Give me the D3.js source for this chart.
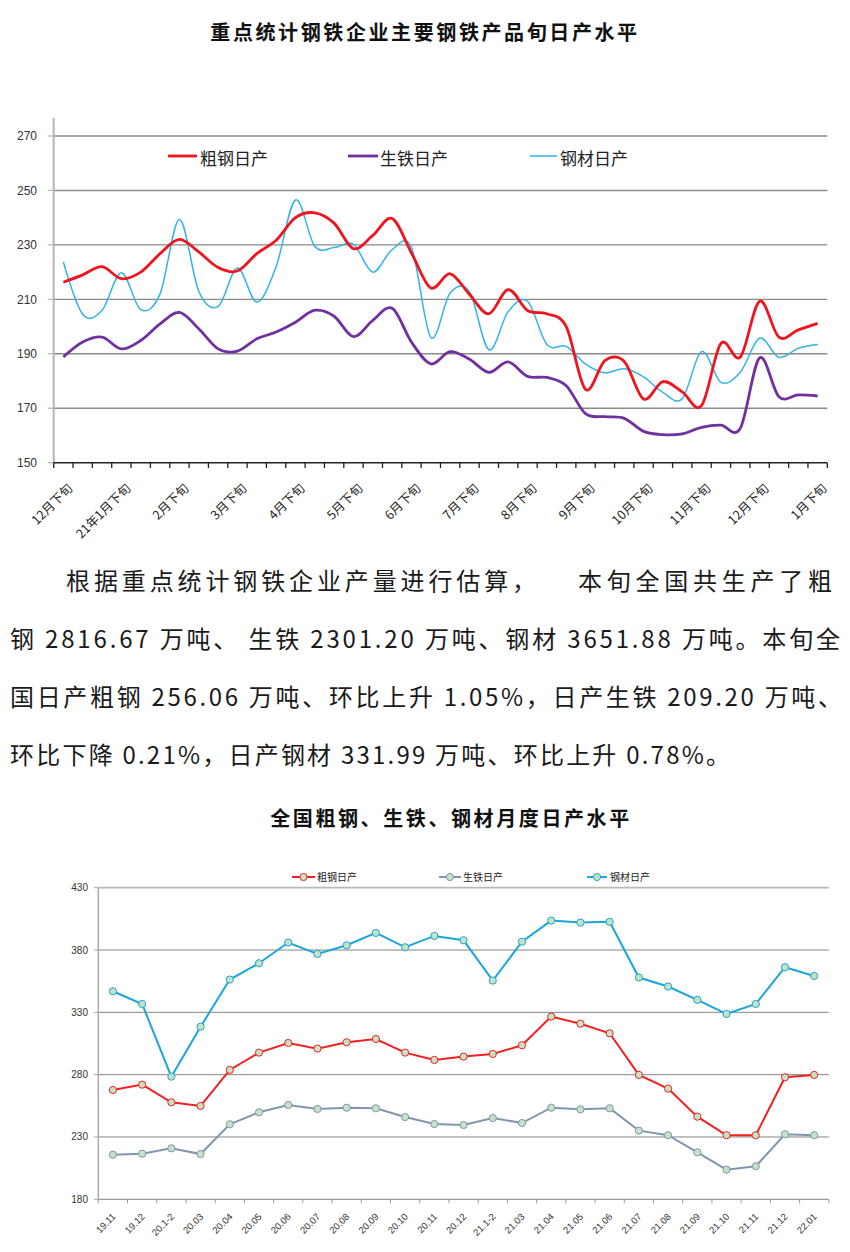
<!DOCTYPE html>
<html><head><meta charset="utf-8">
<script src="https://cdn.jsdelivr.net/npm/d3@7"></script>
<style>body{margin:0;background:#fff;} svg{display:block;}</style>
</head><body>
<svg id="c" width="850" height="1252"></svg>
<script>
// ---------- Data: top chart (dekad daily output, 万吨) ----------
const dekadCategories = [
  "2020年12月下旬",
  "2021年1月上旬","2021年1月中旬","2021年1月下旬",
  "2021年2月上旬","2021年2月中旬","2021年2月下旬",
  "2021年3月上旬","2021年3月中旬","2021年3月下旬",
  "2021年4月上旬","2021年4月中旬","2021年4月下旬",
  "2021年5月上旬","2021年5月中旬","2021年5月下旬",
  "2021年6月上旬","2021年6月中旬","2021年6月下旬",
  "2021年7月上旬","2021年7月中旬","2021年7月下旬",
  "2021年8月上旬","2021年8月中旬","2021年8月下旬",
  "2021年9月上旬","2021年9月中旬","2021年9月下旬",
  "2021年10月上旬","2021年10月中旬","2021年10月下旬",
  "2021年11月上旬","2021年11月中旬","2021年11月下旬",
  "2021年12月上旬","2021年12月中旬","2021年12月下旬",
  "2022年1月上旬","2022年1月中旬","2022年1月下旬"
];
const dekadTickLabels = ["12月下旬","21年1月下旬","2月下旬","3月下旬","4月下旬","5月下旬","6月下旬",
  "7月下旬","8月下旬","9月下旬","10月下旬","11月下旬","12月下旬","1月下旬"];
const crudeDekad = [216.3,219,222,217.6,220,226.8,232,227.4,221.7,220.4,
  226.8,231.7,240,241.8,238,228.6,233.5,239.7,227,214.2,
  219.4,211.8,204.7,213.6,205.9,204.7,200,176.9,187.5,187.2,
  173.4,179.8,176,171,193.8,188.8,209.3,196.1,198.8,201.2];
const pigDekad = [188.8,194.3,196.1,191.8,194.9,201,205.2,199.2,191.8,191,
  195.5,198,201.6,206,203.8,196.3,202.3,206.7,194.3,186.3,
  190.8,188,183.2,187,181.7,181.3,178.3,168,166.9,166.3,
  161.5,160.3,160.6,163,163.8,162.6,188.5,174.2,174.9,174.5];
const steelDekad = [223.7,204.5,206,219.8,206.2,212,239.3,213,207.4,221.5,
  209,222,246.5,229.5,229,230.2,220,228.3,229,196,
  212.3,212.8,191.5,205.5,209.3,193.4,192.7,186.2,183,184.5,
  181.5,175.8,173.5,190.8,179.5,183.2,195.7,188.7,192,193.4];
const topYTicks = [150,170,190,210,230,250,270];
const topSeriesNames = ["粗钢日产","生铁日产","钢材日产"];

// ---------- Data: bottom chart (monthly daily output, 万吨) ----------
const months = ["19.11","19.12","20.1-2","20.03","20.04","20.05","20.06","20.07","20.08","20.09",
  "20.10","20.11","20.12","21.1-2","21.03","21.04","21.05","21.06","21.07","21.08",
  "21.09","21.10","21.11","21.12","22.01"];
const crudeMonth = [267.7,272,257.8,254.9,283.8,297.7,305.4,300.9,306,308.6,
  297.7,291.8,294.5,296.6,303.6,326.6,320.9,313.2,279.8,268.8,
  246.3,231.4,231.4,277.9,279.8];
const pigMonth = [215.8,216.6,220.9,216.3,240.2,249.8,255.7,252.5,253.5,253,
  246,240.4,239.6,245.2,241.2,253.5,252.2,253,235.1,231.4,
  217.7,203.8,206.5,232.2,231.4];
const steelMonth = [346.9,336.7,278.4,318.5,356.3,369.4,386,376.9,383.8,393.7,
  382.2,391.3,387.8,355.5,386.7,403.6,402,402.6,357.9,350.7,
  340,328.7,336.7,366.2,359.2];
const botYTicks = [180,230,280,330,380,430];

// ---------- Text ----------
const title1 = "重点统计钢铁企业主要钢铁产品旬日产水平";
const title2 = "全国粗钢、生铁、钢材月度日产水平";
const paraLines = [
  "钢 2816.67 万吨、 生铁 2301.20 万吨、钢材 3651.88 万吨。本旬全",
  "国日产粗钢 256.06 万吨、环比上升 1.05%，日产生铁 209.20 万吨、",
  "环比下降 0.21%，日产钢材 331.99 万吨、环比上升 0.78%。"
];
const paraFirstA = "根据重点统计钢铁企业产量进行估算，";
const paraFirstB = "本旬全国共生产了粗";

const svg = d3.select("#c");
const CJK = "'Noto Sans CJK SC','Noto Sans',sans-serif";
const NUM = "'Liberation Sans','DejaVu Sans',sans-serif";

// ================= TOP CHART =================
{
  const x = d3.scaleBand().domain(dekadCategories).range([53.7, 827.3]);
  const y = d3.scaleLinear().domain([150, 270]).range([462.7, 136]);
  const g = svg.append("g");

  svg.append("text").attr("x", 425).attr("y", 40).attr("text-anchor", "middle")
    .attr("font-family", CJK).attr("font-weight", 700).attr("font-size", 20)
    .attr("letter-spacing", 2.6).attr("fill", "#111").text(title1);

  // gridlines
  g.selectAll("line.grid").data(topYTicks.filter(d => d > 150)).join("line")
    .attr("x1", 53.7).attr("x2", 827.3).attr("y1", d => y(d)).attr("y2", d => y(d))
    .attr("stroke", "#8a8a8a").attr("stroke-width", 1.4);

  // y axis line
  g.append("line").attr("x1", 53.7).attr("x2", 53.7).attr("y1", 118).attr("y2", 462.7)
    .attr("stroke", "#b5b5b5").attr("stroke-width", 2);

  // y labels
  g.selectAll("text.yl").data(topYTicks).join("text")
    .attr("x", 37).attr("y", d => y(d)).attr("dy", "0.35em").attr("text-anchor", "end")
    .attr("font-family", NUM).attr("font-size", 12).attr("fill", "#333").text(d => d);
  g.selectAll("line.yt").data(topYTicks).join("line")
    .attr("x1", 48).attr("x2", 53.7).attr("y1", d => y(d)).attr("y2", d => y(d))
    .attr("stroke", "#b5b5b5").attr("stroke-width", 1.2);

  // x axis
  g.append("line").attr("x1", 53.7).attr("x2", 827.3).attr("y1", 462.7).attr("y2", 462.7)
    .attr("stroke", "#222").attr("stroke-width", 1.6);
  const bounds = dekadCategories.map(c => x(c)).concat([x.range()[1]]);
  g.selectAll("line.xt").data(bounds).join("line")
    .attr("x1", d => d).attr("x2", d => d).attr("y1", 462.7).attr("y2", 468)
    .attr("stroke", "#222").attr("stroke-width", 1.3);

  // x labels every third category
  g.selectAll("text.xl").data(dekadTickLabels).join("text")
    .attr("transform", (d, k) => {
      const cx = x(dekadCategories[k * 3]) + x.bandwidth() / 2;
      return `translate(${cx + 7},${486}) rotate(-45)`;
    })
    .attr("dy", "0.35em").attr("text-anchor", "end")
    .attr("font-family", CJK).attr("font-size", 12.5).attr("fill", "#222").text(d => d);

  const line = d3.line()
    .x((d, i) => x(dekadCategories[i]) + x.bandwidth() / 2)
    .y(d => y(d))
    .curve(d3.curveCardinal.tension(0));

  const series = [
    { v: steelDekad, c: "#33b3e3", w: 1.5 },
    { v: pigDekad, c: "#7030a0", w: 2.8 },
    { v: crudeDekad, c: "#f0141e", w: 2.8 }
  ];
  series.forEach(s => {
    g.append("path").attr("d", line(s.v)).attr("fill", "none")
      .attr("stroke", s.c).attr("stroke-width", s.w).attr("stroke-linejoin", "round");
  });

  // legend
  const leg = [
    { name: topSeriesNames[0], c: "#f0141e", w: 2.8, x1: 168, x2: 197, tx: 200 },
    { name: topSeriesNames[1], c: "#7030a0", w: 2.8, x1: 348, x2: 378, tx: 380 },
    { name: topSeriesNames[2], c: "#33b3e3", w: 1.5, x1: 530, x2: 557, tx: 560 }
  ];
  leg.forEach(l => {
    g.append("line").attr("x1", l.x1).attr("x2", l.x2).attr("y1", 156).attr("y2", 156)
      .attr("stroke", l.c).attr("stroke-width", l.w);
    g.append("text").attr("x", l.tx).attr("y", 165).attr("font-family", CJK)
      .attr("font-size", 17).attr("fill", "#222").text(l.name);
  });
}

// ================= PARAGRAPH =================
{
  const tg = svg.append("g").attr("font-family", CJK).attr("font-size", 24).attr("fill", "#1a1a1a");
  tg.append("text").attr("x", 66).attr("y", 590).attr("textLength", 470)
    .attr("lengthAdjust", "spacing").text(paraFirstA);
  tg.append("text").attr("x", 578).attr("y", 590).attr("textLength", 254)
    .attr("lengthAdjust", "spacing").text(paraFirstB);
  const ends = [840, 842, 730];
  paraLines.forEach((t, i) => {
    tg.append("text").attr("x", 10).attr("y", 648 + i * 58).attr("textLength", ends[i] - 10)
      .attr("lengthAdjust", "spacing").text(t);
  });
}

// ================= BOTTOM CHART =================
{
  const x = d3.scaleBand().domain(months).range([98.3, 828.8]);
  const y = d3.scaleLinear().domain([180, 430]).range([1199.3, 887.7]);
  const g = svg.append("g");

  svg.append("text").attr("x", 451).attr("y", 826).attr("text-anchor", "middle")
    .attr("font-family", CJK).attr("font-weight", 700).attr("font-size", 20)
    .attr("letter-spacing", 2.6).attr("fill", "#111").text(title2);

  g.selectAll("line.grid").data(botYTicks.filter(d => d > 180 && d < 430)).join("line")
    .attr("x1", 98.3).attr("x2", 828.8).attr("y1", d => y(d)).attr("y2", d => y(d))
    .attr("stroke", "#858585").attr("stroke-width", 1);
  g.append("line").attr("x1", 98.3).attr("x2", 828.8).attr("y1", y(430)).attr("y2", y(430))
    .attr("stroke", "#b8b8b8").attr("stroke-width", 1.8);

  g.append("line").attr("x1", 98.3).attr("x2", 98.3).attr("y1", y(430)).attr("y2", y(180))
    .attr("stroke", "#aaaaaa").attr("stroke-width", 1.5);
  g.selectAll("line.yt").data(botYTicks).join("line")
    .attr("x1", 94).attr("x2", 98.3).attr("y1", d => y(d)).attr("y2", d => y(d))
    .attr("stroke", "#aaaaaa").attr("stroke-width", 1);
  g.selectAll("text.yl").data(botYTicks).join("text")
    .attr("x", 88).attr("y", d => y(d)).attr("dy", "0.35em").attr("text-anchor", "end")
    .attr("font-family", NUM).attr("font-size", 10).attr("fill", "#333").text(d => d);

  g.append("line").attr("x1", 98.3).attr("x2", 828.8).attr("y1", y(180)).attr("y2", y(180))
    .attr("stroke", "#9a9a9a").attr("stroke-width", 1.2);
  const bounds = months.map(m => x(m)).concat([x.range()[1]]);
  g.selectAll("line.xt").data(bounds).join("line")
    .attr("x1", d => d).attr("x2", d => d).attr("y1", y(180)).attr("y2", y(180) + 4)
    .attr("stroke", "#9a9a9a").attr("stroke-width", 1);
  g.selectAll("text.xl").data(months).join("text")
    .attr("transform", d => `translate(${x(d) + x.bandwidth() / 2 + 1},${1215}) rotate(-45)`)
    .attr("dy", "0.35em").attr("text-anchor", "end")
    .attr("font-family", NUM).attr("font-size", 9.5).attr("fill", "#333").text(d => d);

  const line = d3.line().x((d, i) => x(months[i]) + x.bandwidth() / 2).y(d => y(d));
  const series = [
    { name: "钢材日产", v: steelMonth, c: "#1ba6d9" },
    { name: "生铁日产", v: pigMonth, c: "#8096ae" },
    { name: "粗钢日产", v: crudeMonth, c: "#f42020" }
  ];
  series.forEach(s => {
    g.append("path").attr("d", line(s.v)).attr("fill", "none")
      .attr("stroke", s.c).attr("stroke-width", 2);
    g.selectAll(null).data(s.v).join("circle")
      .attr("cx", (d, i) => x(months[i]) + x.bandwidth() / 2).attr("cy", d => y(d))
      .attr("r", 3.6).attr("fill", "#c4e3c4").attr("stroke", s.c).attr("stroke-width", 1);
  });

  const leg = [
    { name: "粗钢日产", c: "#f42020", x1: 292, x2: 315, tx: 317 },
    { name: "生铁日产", c: "#8096ae", x1: 439, x2: 461, tx: 463 },
    { name: "钢材日产", c: "#1ba6d9", x1: 587, x2: 607, tx: 610 }
  ];
  leg.forEach(l => {
    g.append("line").attr("x1", l.x1).attr("x2", l.x2).attr("y1", 877).attr("y2", 877)
      .attr("stroke", l.c).attr("stroke-width", 2);
    g.append("circle").attr("cx", (l.x1 + l.x2) / 2).attr("cy", 877).attr("r", 3.6)
      .attr("fill", "#c4e3c4").attr("stroke", l.c).attr("stroke-width", 1);
    g.append("text").attr("x", l.tx).attr("y", 881).attr("font-family", CJK)
      .attr("font-size", 10).attr("fill", "#222").text(l.name);
  });
}
</script>
</body></html>
